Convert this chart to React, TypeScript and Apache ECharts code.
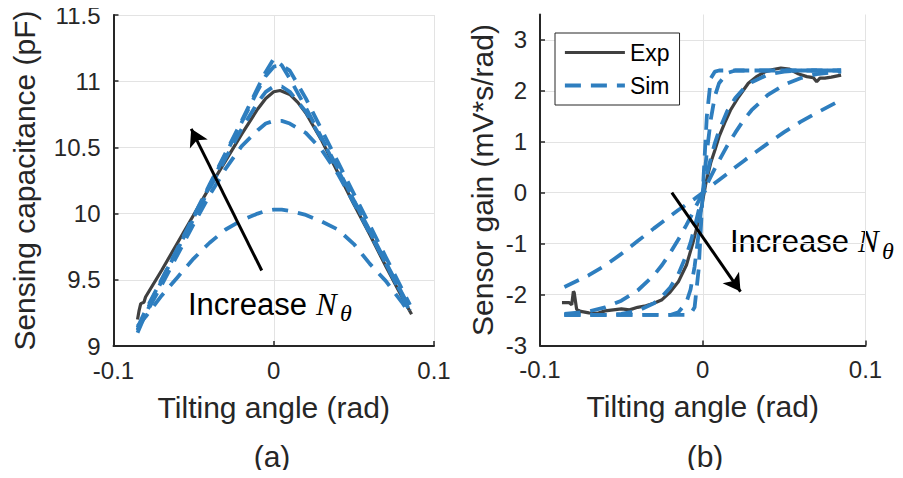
import React, { useEffect, useRef } from 'react';
import * as echarts from 'echarts';

const FONT = '"Liberation Sans", Arial, Helvetica, sans-serif';
const SERIF = '"Liberation Serif", "Times New Roman", serif';
const INK = '#262626';
const EXP_COLOR = '#404040';
const SIM_COLOR = '#2e7ebf';

// ---------- (a) Sensing capacitance ----------
const A_EXP_X = [-0.085, -0.084, -0.083, -0.081, -0.08, -0.07, -0.06, -0.05, -0.04, -0.03, -0.02, -0.01, -0.005, 0, 0.004, 0.01, 0.015, 0.02, 0.03, 0.04, 0.05, 0.06, 0.07, 0.08, 0.086];
const A_EXP_Y = [9.2, 9.27, 9.32, 9.33, 9.37, 9.57, 9.78, 9.99, 10.2, 10.4, 10.6, 10.79, 10.87, 10.92, 10.93, 10.9, 10.84, 10.76, 10.55, 10.31, 10.07, 9.84, 9.6, 9.37, 9.24];

const A_SIM_X = [-0.085, -0.08, -0.07, -0.06, -0.05, -0.04, -0.03, -0.02, -0.01, -0.005, 0, 0.005, 0.01, 0.02, 0.03, 0.04, 0.05, 0.06, 0.07, 0.08, 0.085];
const A_SIM_1 = [9.15, 9.22, 9.38, 9.52, 9.66, 9.78, 9.88, 9.95, 10.0, 10.02, 10.03, 10.03, 10.02, 9.99, 9.94, 9.88, 9.77, 9.62, 9.49, 9.33, 9.24];
const A_SIM_2 = [9.12, 9.24, 9.46, 9.69, 9.92, 10.14, 10.34, 10.51, 10.63, 10.68, 10.7, 10.7, 10.68, 10.61, 10.48, 10.3, 10.08, 9.85, 9.62, 9.39, 9.27];
const A_SIM_3 = [9.14, 9.27, 9.5, 9.73, 9.96, 10.19, 10.42, 10.64, 10.84, 10.92, 10.96, 10.96, 10.92, 10.77, 10.56, 10.33, 10.1, 9.87, 9.63, 9.4, 9.28];
const A_SIM_4 = [9.1, 9.24, 9.49, 9.73, 9.97, 10.21, 10.45, 10.69, 10.93, 11.04, 11.11, 11.12, 11.08, 10.87, 10.63, 10.39, 10.15, 9.91, 9.67, 9.43, 9.31];
const A_SIM_5 = [9.12, 9.25, 9.5, 9.74, 9.98, 10.22, 10.46, 10.7, 10.95, 11.07, 11.17, 11.12, 11.02, 10.8, 10.57, 10.34, 10.1, 9.86, 9.62, 9.38, 9.26];
const A_ARROW = [-0.0075, 9.57, -0.0515, 10.64]; // tail x,y -> head x,y

// ---------- (b) Sensor gain ----------
const B_EXP_X = [-0.0865, -0.082, -0.0805, -0.0795, -0.079, -0.0775, -0.075, -0.07, -0.065, -0.06, -0.055, -0.05, -0.045, -0.04, -0.035, -0.03, -0.025, -0.02, -0.015, -0.01, -0.006, -0.003, -0.001, 0.002, 0.005, 0.0075, 0.01, 0.0135, 0.017, 0.022, 0.028, 0.033, 0.038, 0.043, 0.048, 0.053, 0.059, 0.064, 0.068, 0.07, 0.072, 0.075, 0.079, 0.082, 0.085];
const B_EXP_Y = [-2.16, -2.16, -2.2, -1.94, -1.96, -2.29, -2.33, -2.36, -2.37, -2.32, -2.3, -2.28, -2.3, -2.25, -2.22, -2.17, -2.1, -1.95, -1.75, -1.42, -0.98, -0.6, -0.33, 0.2, 0.6, 0.84, 1.1, 1.37, 1.62, 1.88, 2.15, 2.28, 2.37, 2.42, 2.45, 2.43, 2.33, 2.28, 2.26, 2.18, 2.25, 2.25, 2.27, 2.29, 2.31];

const B_SIM_X = [-0.085, -0.07, -0.06, -0.05, -0.04, -0.03, -0.025, -0.02, -0.015, -0.01, -0.0075, -0.005, -0.0025, 0, 0.0025, 0.005, 0.0075, 0.01, 0.015, 0.02, 0.025, 0.03, 0.04, 0.05, 0.06, 0.07, 0.085];
const B_SIM_1 = [-1.85, -1.62, -1.43, -1.2, -0.95, -0.7, -0.58, -0.46, -0.34, -0.23, -0.17, -0.12, -0.06, 0, 0.06, 0.13, 0.19, 0.25, 0.37, 0.5, 0.62, 0.74, 0.97, 1.19, 1.39, 1.57, 1.82];
const B_SIM_2 = [-2.38, -2.33, -2.25, -2.12, -1.92, -1.62, -1.42, -1.18, -0.92, -0.63, -0.48, -0.32, -0.16, 0, 0.16, 0.32, 0.48, 0.63, 0.92, 1.18, 1.42, 1.62, 1.92, 2.12, 2.25, 2.33, 2.38];
const B_SIM_3 = [-2.4, -2.4, -2.4, -2.38, -2.32, -2.17, -2.04, -1.86, -1.6, -1.22, -0.98, -0.68, -0.35, 0, 0.35, 0.68, 0.98, 1.22, 1.6, 1.86, 2.04, 2.17, 2.32, 2.38, 2.4, 2.4, 2.4];
const B_SIM_4 = [-2.4, -2.4, -2.4, -2.4, -2.4, -2.4, -2.4, -2.4, -2.35, -2.15, -1.9, -1.45, -0.8, 0, 0.8, 1.45, 1.9, 2.15, 2.35, 2.4, 2.4, 2.4, 2.4, 2.4, 2.4, 2.4, 2.4];
const B_SIM_5 = [-2.4, -2.4, -2.4, -2.4, -2.4, -2.4, -2.4, -2.4, -2.4, -2.4, -2.38, -2.25, -1.5, 0, 1.5, 2.25, 2.38, 2.4, 2.4, 2.4, 2.4, 2.4, 2.4, 2.4, 2.4, 2.4, 2.4];
const B_ARROW = [-0.019, 0.0, 0.0232, -1.94];

const X_NAME = 'Tilting angle (rad)';
const A_Y_NAME = 'Sensing capacitance (pF)';
const B_Y_NAME = 'Sensor gain (mV*s/rad)';
const LEGEND_NAMES = ['Exp', 'Sim'];

const pairs = (xs: number[], ys: number[]) => xs.map((x, i) => [x, ys[i]]);

function fmt(v: number) {
  const r = Math.round(v * 1000) / 1000;
  return r === 0 ? '0' : String(r);
}

function makeX(gridIndex: number) {
  return {
    type: 'value', gridIndex, min: -0.1, max: 0.1, interval: 0.1,
    name: X_NAME, nameLocation: 'middle', nameGap: 46,
    nameTextStyle: { fontFamily: FONT, fontSize: 30, color: INK },
    axisLine: { show: true, onZero: false, lineStyle: { color: INK, width: 2 } },
    axisTick: { show: true, inside: true, length: 5, lineStyle: { color: INK, width: 1.5 } },
    axisLabel: { fontFamily: FONT, fontSize: 24, color: INK, margin: 12, formatter: fmt },
    splitLine: { show: true, lineStyle: { color: '#e3e3e3', width: 1 } },
  };
}

function makeY(gridIndex: number, min: number, max: number, interval: number, name: string, gap: number, hideMax: boolean) {
  return {
    type: 'value', gridIndex, min, max, interval,
    name, nameLocation: 'middle', nameGap: gap,
    nameTextStyle: { fontFamily: FONT, fontSize: 30, color: INK },
    axisLine: { show: true, onZero: false, lineStyle: { color: INK, width: 2 } },
    axisTick: { show: true, inside: true, length: 5, lineStyle: { color: INK, width: 1.5 } },
    axisLabel: { fontFamily: FONT, fontSize: 24, color: INK, margin: 13, formatter: fmt, showMaxLabel: !hideMax },
    splitLine: { show: true, showMaxLine: !hideMax, lineStyle: { color: '#e3e3e3', width: 1 } },
  };
}

function expSeries(name: string, idx: number, data: number[][], arrow: number[]) {
  return {
    type: 'line', name, xAxisIndex: idx, yAxisIndex: idx, data,
    symbol: 'none', showSymbol: false, z: 3,
    lineStyle: { color: EXP_COLOR, width: 3.2 }, itemStyle: { color: EXP_COLOR },
    markLine: {
      silent: true, animation: false, symbol: ['none', 'arrow'], symbolSize: [15, 17],
      label: { show: false },
      lineStyle: { color: '#000', width: 3, type: 'solid' },
      emphasis: { disabled: true },
      data: [[{ coord: [arrow[0], arrow[1]] }, { coord: [arrow[2], arrow[3]] }]],
    },
  };
}

function simSeries(idx: number, data: number[][]) {
  return {
    type: 'line', name: 'Sim', xAxisIndex: idx, yAxisIndex: idx, data,
    symbol: 'none', showSymbol: false, z: 4,
    lineStyle: { color: SIM_COLOR, width: 3.8, type: [16, 10] }, itemStyle: { color: SIM_COLOR },
  };
}

function annot(x: number, y: number) {
  return [
    { type: 'text', x, y, style: { text: 'Increase', fontFamily: FONT, fontSize: 31, fill: '#000', verticalAlign: 'middle', align: 'left' } },
    { type: 'text', x: x + 128, y, style: { text: 'N', fontFamily: SERIF, fontStyle: 'italic', fontSize: 31, fill: '#000', verticalAlign: 'middle', align: 'left' } },
    { type: 'text', x: x + 152, y: y + 9, style: { text: 'θ', fontFamily: SERIF, fontStyle: 'italic', fontSize: 24, fill: '#000', verticalAlign: 'middle', align: 'left' } },
  ];
}

export default function App() {
  const ref = useRef<HTMLDivElement>(null);
  useEffect(() => {
    if (!ref.current) return;
    const chart = echarts.init(ref.current, undefined, { renderer: 'svg' });
    const option = {
      animation: false,
      backgroundColor: '#fff',
      grid: [
        { left: 113.5, top: 15, width: 320.5, height: 331 },
        { left: 540, top: 14.5, width: 325.5, height: 331 },
      ],
      xAxis: [makeX(0), makeX(1)],
      yAxis: [
        makeY(0, 9, 11.5, 0.5, A_Y_NAME, 74, false),
        makeY(1, -3, 3.5, 1, B_Y_NAME, 43, true),
      ],
      legend: {
        data: [
          { name: LEGEND_NAMES[0], lineStyle: { width: 3.2 } },
          { name: LEGEND_NAMES[1], lineStyle: { width: 3.8 } },
        ],
        orient: 'vertical', left: 555, top: 33,
        padding: [8, 10, 8, 8], itemGap: 10, itemWidth: 60, itemHeight: 20,
        itemStyle: { opacity: 0, borderWidth: 0 },
        backgroundColor: '#fff', borderColor: INK, borderWidth: 1, borderRadius: 0,
        textStyle: { fontFamily: FONT, fontSize: 23, color: '#000' },
        selectedMode: false,
      },
      graphic: [
        ...annot(188, 304),
        ...annot(730, 241.5),
        { type: 'text', x: 272, y: 456, style: { text: '(a)', fontFamily: FONT, fontSize: 30, fill: INK, align: 'center', verticalAlign: 'middle' } },
        { type: 'text', x: 705, y: 456, style: { text: '(b)', fontFamily: FONT, fontSize: 30, fill: INK, align: 'center', verticalAlign: 'middle' } },
      ],
      series: [
        expSeries('Exp', 0, pairs(A_EXP_X, A_EXP_Y), A_ARROW),
        simSeries(0, pairs(A_SIM_X, A_SIM_1)),
        simSeries(0, pairs(A_SIM_X, A_SIM_2)),
        simSeries(0, pairs(A_SIM_X, A_SIM_3)),
        simSeries(0, pairs(A_SIM_X, A_SIM_4)),
        simSeries(0, pairs(A_SIM_X, A_SIM_5)),
        expSeries('Exp', 1, pairs(B_EXP_X, B_EXP_Y), B_ARROW),
        simSeries(1, pairs(B_SIM_X, B_SIM_1)),
        simSeries(1, pairs(B_SIM_X, B_SIM_2)),
        simSeries(1, pairs(B_SIM_X, B_SIM_3)),
        simSeries(1, pairs(B_SIM_X, B_SIM_4)),
        simSeries(1, pairs(B_SIM_X, B_SIM_5)),
      ],
    };
    chart.setOption(option as any);
    return () => chart.dispose();
  }, []);
  return <div ref={ref} style={{ width: 903, height: 478, margin: -8 }} />;
}
